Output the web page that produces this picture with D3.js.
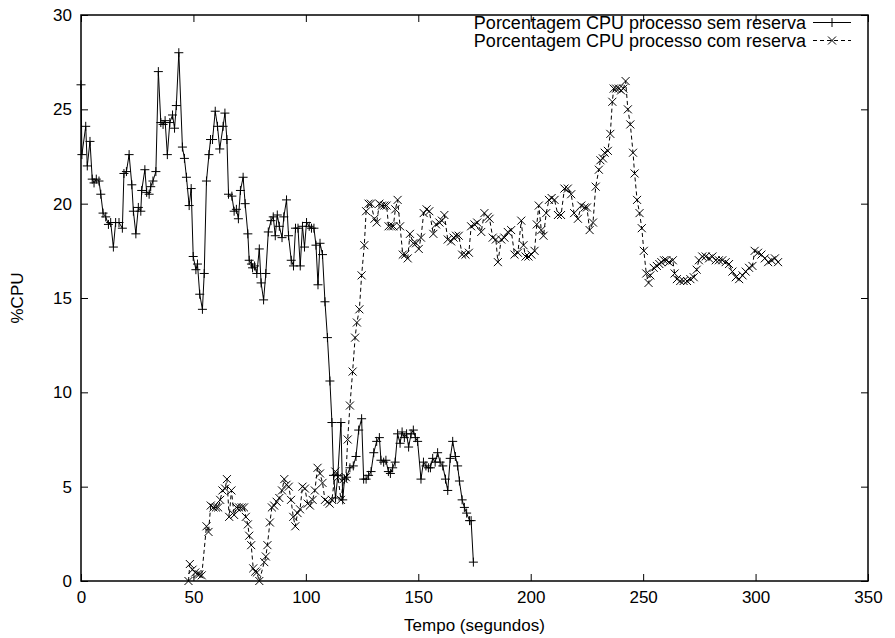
<!DOCTYPE html>
<html>
<head>
<meta charset="utf-8">
<script src="https://cdn.jsdelivr.net/npm/d3@7"></script>
<style>
  body { margin: 0; background: #fff; }
  svg { font-family: "Liberation Sans", Arial, Helvetica, sans-serif; }
</style>
</head>
<body>
<div id="chart"></div>
<script>
// Porcentagem CPU processo sem reserva (tempo em segundos, %CPU)
const tempoSem = [0, 0.4, 2.1, 2.8, 4.0, 5.0, 5.8, 6.8, 8.0, 8.8, 9.8, 11.0, 12.2, 13.2, 14.4, 15.4, 16.9, 18.4, 19.1, 20.2,
  21.4, 22.6, 23.3, 24.4, 25.5, 26.6, 27.0, 28.4, 29.2, 30.3, 31.0, 32.0, 33.3, 34.4, 35.5, 36.5, 37.4, 38.4, 39.5, 40.7,
  41.6, 42.4, 43.5, 45.1, 46.0, 46.9, 48.1, 49.0, 49.9, 51.1, 51.8, 52.8, 54.0, 54.8, 55.8, 56.9, 57.6, 58.5, 59.7, 60.7,
  61.7, 63.2, 64.0, 64.9, 65.6, 67.1, 68.1, 69.1, 70.0, 70.9, 72.1, 73.0, 74.2, 74.8, 75.8, 76.3, 77.2, 78.2, 79.3, 80.1,
  81.2, 82.2, 83.3, 84.5, 85.5, 86.4, 87.3, 88.2, 89.4, 90.2, 91.4, 92.3, 93.5, 94.5, 95.4, 96.5, 97.5, 98.5, 99.4, 100.3,
  101.5, 102.5, 103.6, 104.5, 105.4, 106.3, 107.4, 108.5, 109.6, 110.7, 111.6, 112.3, 113.2, 114.2, 115.6, 116.4, 117.2, 118.1, 119.6, 121.1,
  122.3, 123.5, 124.8, 125.7, 126.8, 127.9, 129.0, 130.2, 131.5, 132.7, 133.4, 134.6, 135.6, 136.7, 137.6, 138.6, 139.7, 140.8, 141.9, 142.8,
  143.8, 144.8, 145.7, 146.8, 147.8, 148.7, 149.7, 151.2, 152.3, 153.4, 154.5, 155.4, 156.4, 157.5, 158.6, 159.7, 160.9, 162.1, 163.1, 164.2,
  165.3, 166.5, 167.5, 168.3, 169.5, 170.5, 171.5, 172.8, 173.5, 174.5];
const cpuSem = [26.3, 22.6, 24.1, 22.0, 23.3, 21.3, 21.1, 21.3, 21.2, 20.5, 19.5, 19.3, 18.9, 19.0, 17.7, 19.0, 19.0, 18.7, 21.6, 21.7,
  22.6, 21.0, 19.6, 18.4, 19.8, 19.6, 20.7, 21.8, 20.6, 20.5, 20.9, 21.2, 21.7, 27.0, 24.3, 24.2, 24.4, 22.6, 24.3, 24.7,
  24.0, 25.2, 28.0, 23.0, 22.4, 21.4, 19.9, 20.8, 17.2, 16.5, 16.8, 15.2, 14.4, 16.3, 21.2, 22.6, 23.4, 23.4, 24.9, 24.1,
  22.9, 24.1, 24.8, 23.4, 20.5, 20.4, 19.6, 19.7, 19.2, 20.7, 21.4, 20.0, 18.4, 17.0, 16.8, 16.6, 16.7, 16.3, 17.6, 15.8,
  14.9, 16.3, 18.5, 19.1, 19.3, 18.3, 19.4, 18.8, 18.2, 19.3, 20.2, 18.3, 17.0, 16.7, 18.7, 18.7, 16.7, 18.8, 17.7, 19.0,
  18.8, 18.7, 18.7, 17.8, 15.7, 17.9, 17.3, 14.8, 12.9, 10.6, 8.4, 5.6, 4.4, 5.6, 8.4, 4.3, 5.4, 5.5, 6.0, 6.1,
  6.6, 8.0, 8.6, 5.4, 5.4, 5.6, 5.8, 6.8, 7.4, 7.6, 6.4, 6.3, 6.4, 5.8, 5.7, 6.0, 6.3, 7.8, 7.3, 7.9,
  7.6, 7.8, 7.1, 7.8, 8.0, 7.6, 7.4, 5.4, 6.3, 6.1, 6.0, 6.0, 6.5, 6.3, 6.8, 6.3, 6.1, 5.4, 4.8, 6.5,
  7.4, 6.6, 6.1, 5.3, 4.3, 3.9, 3.6, 3.2, 3.2, 1.0];

// Porcentagem CPU processo com reserva
const tempoCom = [47.8, 48.4, 49.6, 50.8, 51.8, 52.6, 53.7, 55.8, 56.7, 57.7, 58.9, 60.0, 61.0, 61.9, 62.9, 64.1, 64.9, 65.9, 66.9, 68.1,
  69.1, 70.3, 71.5, 72.5, 73.3, 74.2, 74.8, 75.7, 76.6, 77.5, 78.2, 79.3, 81.5, 82.2, 82.9, 84.0, 84.9, 85.9, 87.0, 88.2,
  89.4, 90.4, 91.4, 92.4, 93.4, 94.4, 95.3, 96.3, 97.4, 98.5, 99.6, 100.8, 101.8, 103.0, 104.0, 105.2, 106.3, 107.4, 108.5, 109.7,
  110.6, 111.6, 113.1, 114.3, 115.6, 116.8, 117.8, 118.6, 119.6, 120.8, 121.9, 122.7, 123.8, 124.8, 126.0, 126.8, 127.9, 128.9, 130.5, 131.5,
  132.7, 133.8, 134.9, 135.9, 136.8, 137.9, 138.9, 139.8, 140.8, 141.9, 143.1, 144.2, 145.3, 146.3, 147.8, 149.0, 150.2, 151.2, 152.4, 153.7,
  154.9, 156.7, 157.9, 159.4, 160.5, 161.6, 163.1, 164.6, 165.7, 166.8, 168.0, 169.5, 171.0, 172.5, 173.5, 175.0, 176.2, 178.0, 179.4, 180.9,
  181.7, 183.1, 184.5, 185.4, 186.9, 188.3, 189.8, 191.3, 192.8, 194.3, 195.8, 196.8, 197.7, 199.0, 200.3, 201.7, 202.7, 203.6, 204.7, 205.7,
  206.9, 208.1, 209.3, 210.6, 212.1, 213.5, 215.0, 216.5, 218.0, 219.3, 221.0, 222.5, 224.0, 225.0, 226.2, 227.7, 228.9, 230.3, 231.0, 232.1,
  232.9, 234.3, 235.4, 236.3, 236.9, 238.0, 239.2, 240.2, 241.2, 242.2, 243.2, 244.3, 245.5, 246.2, 247.3, 248.4, 249.4, 250.3, 251.4, 252.4,
  253.2, 254.7, 256.1, 257.2, 258.1, 259.3, 260.3, 261.5, 263.2, 264.0, 265.0, 266.5, 268.0, 269.5, 271.0, 272.5, 273.8, 274.8, 276.3, 277.8,
  279.3, 280.8, 282.3, 283.7, 285.2, 286.7, 288.2, 289.7, 291.2, 292.7, 294.2, 295.6, 297.1, 298.6, 299.6, 301.1, 302.6, 304.1, 305.6, 307.1,
  308.6, 310.0];
const cpuCom = [0.0, 0.9, 0.6, 0.45, 0.37, 0.35, 0.3, 2.9, 2.6, 4.0, 3.9, 3.9, 3.9, 4.3, 4.8, 4.9, 5.4, 3.4, 4.8, 3.5,
  3.9, 3.9, 3.9, 3.9, 3.4, 3.0, 2.4, 1.9, 0.67, 0.5, 0.45, 0.0, 1.0, 1.3, 1.9, 3.1, 3.9, 4.0, 4.2, 4.4,
  4.8, 5.4, 5.1, 5.0, 4.3, 3.4, 2.9, 3.6, 3.8, 5.0, 4.9, 4.1, 4.0, 4.3, 4.8, 6.0, 5.7, 5.2, 4.3, 4.2,
  4.1, 4.3, 5.8, 5.5, 4.3, 5.4, 5.5, 7.5, 9.3, 11.1, 12.9, 13.7, 14.4, 16.2, 17.8, 19.6, 20.0, 20.0, 19.2, 19.0,
  20.0, 19.9, 19.9, 19.9, 18.8, 18.8, 18.8, 19.7, 20.2, 18.8, 17.3, 17.3, 17.1, 18.4, 17.9, 17.9, 17.6, 18.2, 19.5, 19.7,
  19.6, 18.4, 18.9, 19.0, 19.1, 19.4, 18.1, 18.0, 18.2, 18.3, 18.3, 17.3, 17.3, 17.4, 18.8, 18.9, 19.0, 18.5, 19.5, 19.3,
  19.2, 18.2, 18.1, 16.9, 18.1, 18.2, 18.5, 18.6, 17.3, 17.4, 19.1, 17.8, 17.2, 17.2, 17.3, 17.5, 18.9, 19.9, 18.6, 18.3,
  19.5, 20.2, 20.3, 20.2, 19.4, 19.4, 20.8, 20.8, 20.5, 19.5, 19.2, 19.9, 19.8, 19.8, 18.6, 19.0, 20.9, 21.8, 22.3, 22.4,
  22.7, 22.8, 23.7, 25.4, 26.1, 26.1, 26.1, 26.0, 26.1, 26.5, 25.0, 24.2, 22.7, 21.6, 20.2, 19.5, 18.7, 17.5, 16.3, 15.8,
  16.2, 16.6, 16.7, 16.8, 16.9, 17.0, 17.0, 16.9, 17.0, 16.3, 16.0, 15.9, 15.9, 15.9, 16.0, 16.1, 16.5, 17.0, 17.2, 17.2,
  17.1, 17.2, 17.0, 17.0, 17.0, 16.9, 16.8, 16.4, 16.1, 16.0, 16.2, 16.4, 16.6, 16.7, 17.5, 17.4, 17.3, 17.1, 16.9, 17.0,
  17.1, 16.9];

const xTicks = [0, 50, 100, 150, 200, 250, 300, 350];
const yTicks = [0, 5, 10, 15, 20, 25, 30];
const seriesNames = ["Porcentagem CPU processo sem reserva", "Porcentagem CPU processo com reserva"];

const W = 895, H = 638;
const margin = { top: 15, right: 27, bottom: 57, left: 81 };
const width = W - margin.left - margin.right,
      height = H - margin.top - margin.bottom;

const x = d3.scaleLinear().domain([0, 350]).range([0, width]);
const y = d3.scaleLinear().domain([0, 30]).range([height, 0]);

const svg = d3.select("#chart").append("svg")
    .attr("width", W)
    .attr("height", H)
    .append("g")
    .attr("transform", `translate(${margin.left},${margin.top})`);

// ticks inward, mirrored on every side (gnuplot style)
const tickLen = 7;
svg.append("g")
    .attr("transform", `translate(0,${height})`)
    .call(d3.axisBottom(x).tickValues(xTicks).tickSizeInner(-tickLen).tickSizeOuter(0).tickPadding(10))
    .call(g => g.select(".domain").remove());
svg.append("g")
    .call(d3.axisTop(x).tickValues(xTicks).tickSizeInner(-tickLen).tickSizeOuter(0).tickFormat(""))
    .call(g => g.select(".domain").remove());
svg.append("g")
    .call(d3.axisLeft(y).tickValues(yTicks).tickSizeInner(-tickLen).tickSizeOuter(0).tickPadding(9))
    .call(g => g.select(".domain").remove());
svg.append("g")
    .attr("transform", `translate(${width},0)`)
    .call(d3.axisRight(y).tickValues(yTicks).tickSizeInner(-tickLen).tickSizeOuter(0).tickFormat(""))
    .call(g => g.select(".domain").remove());

svg.selectAll(".tick text")
    .style("font-size", "17px")
    .style("fill", "#000")
    .style("font-family", "'Liberation Sans', Arial, sans-serif");
svg.selectAll(".tick line").style("stroke", "#000");

// frame
svg.append("rect")
    .attr("width", width)
    .attr("height", height)
    .style("fill", "none")
    .style("stroke", "#000")
    .style("stroke-width", 1.5);

// axis titles
svg.append("text")
    .attr("x", width / 2)
    .attr("y", height + 50)
    .style("text-anchor", "middle")
    .style("font-size", "17px")
    .text("Tempo (segundos)");

svg.append("text")
    .attr("transform", "rotate(-90)")
    .attr("x", -height / 2)
    .attr("y", -58)
    .style("text-anchor", "middle")
    .style("font-size", "17px")
    .text("%CPU");

const plusPath = "M-4.5,0H4.5M0,-4.5V4.5";
const crossPath = "M-4,-4L4,4M-4,4L4,-4";

const semData = tempoSem.map((t, i) => ({ t: t, v: cpuSem[i] }));
const comData = tempoCom.map((t, i) => ({ t: t, v: cpuCom[i] }));

const line = d3.line().x(d => x(d.t)).y(d => y(d.v));

// com reserva (dashed, x markers)
svg.append("path")
    .datum(comData)
    .attr("d", line)
    .style("fill", "none")
    .style("stroke", "#000")
    .style("stroke-width", 1)
    .style("stroke-dasharray", "4,3");
svg.selectAll(".pt-com")
    .data(comData)
    .enter().append("path")
    .attr("class", "pt-com")
    .attr("transform", d => `translate(${x(d.t)},${y(d.v)})`)
    .attr("d", crossPath)
    .style("stroke", "#000")
    .style("stroke-width", 1)
    .style("fill", "none");

// sem reserva (solid, + markers)
svg.append("path")
    .datum(semData)
    .attr("d", line)
    .style("fill", "none")
    .style("stroke", "#000")
    .style("stroke-width", 1);
svg.selectAll(".pt-sem")
    .data(semData)
    .enter().append("path")
    .attr("class", "pt-sem")
    .attr("transform", d => `translate(${x(d.t)},${y(d.v)})`)
    .attr("d", plusPath)
    .style("stroke", "#000")
    .style("stroke-width", 1)
    .style("fill", "none");

// legend (top right, inside frame)
const legend = svg.append("g")
    .attr("transform", `translate(${width - 55}, 0)`);
const legendItems = legend.selectAll(".legend-item")
    .data(seriesNames)
    .enter().append("g")
    .attr("class", "legend-item")
    .attr("transform", (d, i) => `translate(0, ${7.5 + i * 18})`);

legendItems.append("text")
    .attr("x", -7)
    .attr("y", 6)
    .style("text-anchor", "end")
    .style("font-size", "18px")
    .text(d => d);

legendItems.append("line")
    .attr("x1", 0)
    .attr("x2", 38)
    .style("stroke", "#000")
    .style("stroke-width", 1)
    .style("stroke-dasharray", (d, i) => i === 0 ? null : "4,3");

legendItems.append("path")
    .attr("transform", "translate(19,0)")
    .attr("d", (d, i) => i === 0 ? plusPath : crossPath)
    .style("stroke", "#000")
    .style("fill", "none");
</script>
</body>
</html>
